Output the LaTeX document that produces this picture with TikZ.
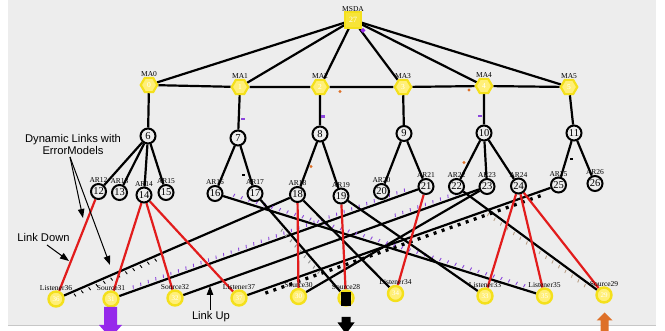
\documentclass[tikz,border=0pt]{standalone}
\usepackage{fontspec}
\setmainfont{Liberation Serif}
\newfontfamily\annfont{Liberation Sans}
\usetikzlibrary{shapes.geometric,arrows.meta,decorations.markings}

\definecolor{panel}{RGB}{237,237,237}
\definecolor{ring}{RGB}{244,224,28}
\definecolor{core}{RGB}{255,239,120}
\definecolor{wlink}{RGB}{226,28,28}
\definecolor{pktpurple}{RGB}{140,70,220}
\definecolor{pkttan}{RGB}{185,160,135}
\definecolor{flowpurple}{RGB}{150,40,235}
\definecolor{floworange}{RGB}{222,112,40}

\pgfdeclarelayer{back}
\pgfdeclarelayer{links}
\pgfsetlayers{back,links,main}

\tikzset{
  every label/.style={font=\fontsize{7.5}{7.5}\selectfont, text=black, inner sep=0pt,
    text height=5pt, text depth=0pt},
  hub/.style={rectangle, minimum size=15.5pt, inner sep=0pt, draw=ring, fill=ring!70!core,
    line width=2pt, text=white, font=\fontsize{8}{8}\selectfont, label distance=3.3pt},
  agent/.style={regular polygon, regular polygon sides=6, minimum size=16.5pt, inner sep=0pt,
    draw=ring, fill=core, line width=2.2pt, text=white, font=\fontsize{7.5}{7.5}\selectfont,
    label distance=3.3pt},
  router/.style={circle, minimum size=15pt, inner sep=0pt, draw=black, fill=panel,
    line width=2pt, font=\fontsize{10.5}{10.5}\selectfont, label distance=3.2pt},
  host/.style={circle, minimum size=15pt, inner sep=0pt, draw=ring, fill=core,
    line width=2.4pt, text=white, font=\fontsize{7}{7}\selectfont, label distance=3.2pt},
  wire/.style={draw=black, line width=2.2pt},
  radio/.style={draw=wlink, line width=2.2pt},
  note/.style={font=\annfont\fontsize{11.2}{12.4}\selectfont, inner sep=0pt, align=center},
  callout/.style={draw=black, line width=1pt, -{Triangle[length=9pt,width=6.5pt]}},
  ticks/.style n args={4}{postaction={decorate,decoration={markings,
    mark=between positions #1 and #2 step #3 with {\draw[#4,line width=0.9pt] (0pt,2.2pt) -- (0.8pt,5.5pt);}}}},
  rticks/.style n args={4}{postaction={decorate,decoration={markings,
    mark=between positions #1 and #2 step #3 with {\draw[#4,line width=0.9pt] (0pt,-2.2pt) -- (0.8pt,-5.5pt);}}}},
  squares/.style n args={3}{postaction={decorate,decoration={markings,
    mark=between positions #1 and #2 step #3 with {\fill[black] (-1.5pt,-2.5pt) rectangle (1.5pt,-5.8pt);}}}},
}

\begin{document}
\begin{tikzpicture}[x=1pt,y=-1pt]
\useasboundingbox (0,0) rectangle (665,331);

% canvas
\begin{pgfonlayer}{back}
  \fill[white] (0,0) rectangle (665,331);
  \fill[panel] (8,0) rectangle (656,325.5);
  \draw[black!22,line width=0.8pt] (8,325.5) -- (656,325.5);
\end{pgfonlayer}

% domain agent and mobility agents
\node[hub, label=above:MSDA] (msda) at (353,20) {27};
\node[agent, label=above:MA0] (ma0) at (149,85) {0};
\node[agent, label=above:MA1] (ma1) at (240,87) {1};
\node[agent, label=above:MA2] (ma2) at (320,87) {2};
\node[agent, label=above:MA3] (ma3) at (403,87) {3};
\node[agent, label=above:MA4] (ma4) at (484,86) {4};
\node[agent, label=above:MA5] (ma5) at (569,87) {5};

% routers
\node[router] (ar6)  at (148,136) {6};
\node[router] (ar7)  at (238,138) {7};
\node[router] (ar8)  at (320,134) {8};
\node[router] (ar9)  at (404,133.5) {9};
\node[router] (ar10) at (484,133) {10};
\node[router] (ar11) at (574,133) {11};

\node[router, label=above:AR12] (ar12) at (98.5,191.5) {12};
\node[router, label=above:AR13] (ar13) at (119.5,192.5) {13};
\node[router, label=above:AR14] (ar14) at (144,195) {14};
\node[router, label=above:AR15] (ar15) at (166,192.5) {15};
\node[router, label=above:AR16] (ar16) at (215,193.5) {16};
\node[router, label=above:AR17] (ar17) at (255,193.5) {17};
\node[router, label=above:AR18] (ar18) at (297.5,194.5) {18};
\node[router, label=above:AR19] (ar19) at (341,196) {19};
\node[router, label=above:AR20] (ar20) at (381.5,191.5) {20};
\node[router, label=above:AR21] (ar21) at (426,186.5) {21};
\node[router, label=above:AR22] (ar22) at (456.5,186.5) {22};
\node[router, label=above:AR23] (ar23) at (487,186.5) {23};
\node[router, label=above:AR24] (ar24) at (518.5,186) {24};
\node[router, label=above:AR25] (ar25) at (558.5,185) {25};
\node[router, label=above:AR26] (ar26) at (595,183.5) {26};

% mobile hosts
\node[host, label=above:Listener36] (l36) at (56,299) {36};
\node[host, label=above:Source31]   (s31) at (111,299) {31};
\node[host, label=above:Source32]   (s32) at (175,298) {32};
\node[host, label=above:Listener37] (l37) at (239,298) {37};
\node[host, label=above:Source30]   (s30) at (298.5,296.5) {30};
\node[host, label=above:Source28]   (s28) at (346,298) {28};
\node[host, label=above:Listener34] (l34) at (395.5,293.5) {34};
\node[host, label=above:Listener33] (l33) at (485,296) {33};
\node[host, label=above:Listener35] (l35) at (544.5,296) {35};
\node[host, label=above:Source29]   (s29) at (604,295) {29};

\begin{pgfonlayer}{links}
  % hierarchy
  \foreach \m in {ma0,ma1,ma2,ma3,ma4,ma5} \draw[wire] (msda) -- (\m);
  \draw[wire] (ma0) -- (ma1) -- (ma2) -- (ma3) -- (ma4) -- (ma5);
  \draw[wire] (ma0) -- (ar6);  \draw[wire] (ma1) -- (ar7);
  \draw[wire] (ma2) -- (ar8);  \draw[wire] (ma3) -- (ar9);
  \draw[wire] (ma4) -- (ar10); \draw[wire] (ma5) -- (ar11);
  \foreach \c in {ar12,ar13,ar14,ar15} \draw[wire] (ar6) -- (\c);
  \foreach \c in {ar16,ar17} \draw[wire] (ar7) -- (\c);
  \foreach \c in {ar18,ar19} \draw[wire] (ar8) -- (\c);
  \foreach \c in {ar20,ar21} \draw[wire] (ar9) -- (\c);
  \foreach \c in {ar22,ar23,ar24} \draw[wire] (ar10) -- (\c);
  \foreach \c in {ar25,ar26} \draw[wire] (ar11) -- (\c);

  % wired links to hosts, with packets in flight
  \draw[wire, rticks={0.04}{0.45}{8pt}{black}] (l36) -- (ar18);
  \draw[wire, ticks={0.05}{0.96}{8pt}{pktpurple}] (s31) -- (ar21);
  \draw[wire, ticks={0.72}{0.96}{8pt}{pktpurple}] (s32) -- (ar23);
  \draw[wire, squares={0.06}{0.97}{8.5pt}] (l37) -- (ar25);
  \draw[wire] (s30) -- (ar23);
  \draw[wire, ticks={0.03}{0.97}{8pt}{pktpurple}] (ar16) -- (l35);
  \draw[wire, rticks={0.3}{0.8}{7pt}{black!45}] (ar17) -- (s28);
  \draw[wire] (ar18) -- (l34);
  \draw[wire] (ar19) -- (l33);
  \draw[wire, rticks={0.2}{0.95}{8pt}{pkttan}] (ar22) -- (s29);

  % wireless links
  \draw[radio] (ar12) -- (l36);
  \draw[radio] (ar14) -- (s31);
  \draw[radio] (ar14) -- (s32);
  \draw[radio] (ar14) -- (l37);
  \draw[radio] (ar18) -- (s30);
  \draw[radio] (ar19) -- (s28);
  \draw[radio] (ar21) -- (l34);
  \draw[radio] (ar24) -- (l33);
  \draw[radio] (ar24) -- (l35);
  \draw[radio] (ar24) -- (s29);
\end{pgfonlayer}

% single packets on the tree links
\fill[flowpurple] (363,28) -- (365.5,30.5) -- (363,33) -- (360.5,30.5) -- cycle;
\fill[pktpurple] (241,118) rectangle (245,120.5);
\fill[pktpurple] (321,115.5) rectangle (324.5,118);
\fill[pktpurple] (478,115) rectangle (482,117.5);
\fill[floworange] (340,91.5) circle (1.6);
\fill[floworange] (469,90) circle (1.6);
\fill[floworange] (311,166.5) circle (1.6);
\fill[floworange] (464,162.5) circle (1.6);
\fill[black] (570,158) rectangle (572.5,160.5);
\fill[black] (242,174) rectangle (244.5,176.5);

% queue marker on Source28 and traffic arrows
\fill[black] (341,292.5) rectangle (351,306);
\fill[flowpurple] (104,307) -- (117,307) -- (117,325) -- (122,325) -- (110.5,338)
  -- (99,325) -- (104,325) -- cycle;
\fill[black] (341.5,317) -- (350.5,317) -- (350.5,322.5) -- (354.5,322.5) -- (346,334)
  -- (337.5,322.5) -- (341.5,322.5) -- cycle;
\fill[floworange] (604.5,312.5) -- (612.5,320.5) -- (608.5,320.5) -- (608.5,335)
  -- (600.5,335) -- (600.5,320.5) -- (596.5,320.5) -- cycle;

% annotations
\node[note] (dyn) at (73,144.5) {Dynamic Links with\\ErrorModels};
\node[note] (down) at (43.5,237) {Link Down};
\node[note] (up) at (211,317) {Link Up};
\coordinate (dynfoot) at (70,157);
\coordinate (dyntipA) at (83,218);
\coordinate (dyntipB) at (110,265);
\coordinate (downfoot) at (47,245);
\coordinate (downtip) at (69,261);
\coordinate (upfoot) at (210,310);
\coordinate (uptip) at (210,286);
\draw[callout] (dynfoot) -- (dyntipA);
\draw[callout] (dynfoot) -- (dyntipB);
\draw[callout] (downfoot) -- (downtip);
\draw[callout] (upfoot) -- (uptip);
\end{tikzpicture}
\end{document}
